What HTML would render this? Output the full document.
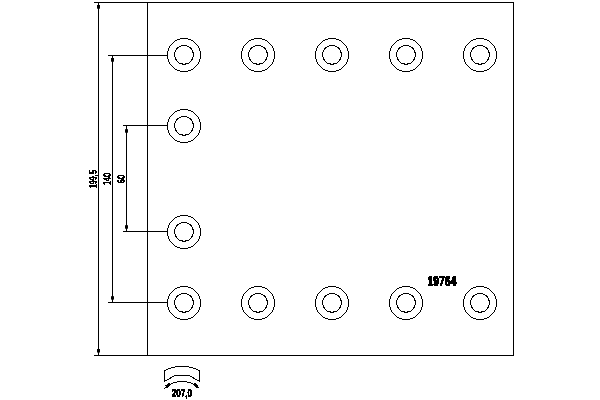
<!DOCTYPE html>
<html>
<head>
<meta charset="utf-8">
<title>19764</title>
<style>
html,body{margin:0;padding:0;background:#fff;width:600px;height:400px;overflow:hidden}
svg{display:block}
text{font-family:"Liberation Sans",sans-serif;font-weight:bold;fill:#000;stroke:#000;stroke-linejoin:round}
</style>
</head>
<body>
<svg width="600" height="400" viewBox="0 0 600 400">
<defs>
<filter id="bw" x="-20%" y="-20%" width="140%" height="140%" color-interpolation-filters="sRGB">
<feComponentTransfer><feFuncA type="discrete" tableValues="0 1"/></feComponentTransfer>
</filter>
</defs>
<rect width="600" height="400" fill="#fff"/>
<g fill="none" stroke="#000" stroke-width="1" shape-rendering="crispEdges">
<path d="M94 2.5H513.5V355.5H94"/>
<path d="M147.5 2V356"/>
<path d="M98.5 2V356"/>
<path d="M108 55.5H167"/>
<path d="M112.5 55V303"/>
<path d="M108 302.5H167"/>
<path d="M123 125.5H167"/>
<path d="M126.5 125V232"/>
<path d="M123 231.5H167"/>
</g>
<g fill="#000">
<rect x="97" y="5" width="3" height="3.7"/>
<rect x="97" y="349" width="3" height="3.5"/>
<rect x="111" y="58" width="3" height="3.7"/>
<rect x="111" y="296.2" width="3" height="3.4"/>
<rect x="125" y="129.2" width="3" height="3.5"/>
<rect x="125" y="225.2" width="3" height="3.5"/>
</g>
<g fill="none" stroke="#000" stroke-width="1" shape-rendering="crispEdges">
<circle cx="184" cy="55" r="16.5"/><polygon points="184.00,64.45 189.19,62.93 192.73,58.84 193.50,53.48 191.26,48.56 186.70,45.64 181.30,45.64 176.74,48.56 174.50,53.48 175.27,58.84 178.81,62.93"/>
<circle cx="258" cy="55" r="16.5"/><polygon points="258.00,64.45 263.19,62.93 266.73,58.84 267.50,53.48 265.26,48.56 260.70,45.64 255.30,45.64 250.74,48.56 248.50,53.48 249.27,58.84 252.81,62.93"/>
<circle cx="332" cy="55" r="16.5"/><polygon points="332.00,64.45 337.19,62.93 340.73,58.84 341.50,53.48 339.26,48.56 334.70,45.64 329.30,45.64 324.74,48.56 322.50,53.48 323.27,58.84 326.81,62.93"/>
<circle cx="406" cy="55" r="16.5"/><polygon points="406.00,64.45 411.19,62.93 414.73,58.84 415.50,53.48 413.26,48.56 408.70,45.64 403.30,45.64 398.74,48.56 396.50,53.48 397.27,58.84 400.81,62.93"/>
<circle cx="480" cy="55" r="16.5"/><polygon points="480.00,64.45 485.19,62.93 488.73,58.84 489.50,53.48 487.26,48.56 482.70,45.64 477.30,45.64 472.74,48.56 470.50,53.48 471.27,58.84 474.81,62.93"/>
<circle cx="184" cy="126" r="16.5"/><polygon points="184.00,135.45 189.19,133.93 192.73,129.84 193.50,124.48 191.26,119.56 186.70,116.64 181.30,116.64 176.74,119.56 174.50,124.48 175.27,129.84 178.81,133.93"/>
<circle cx="184" cy="232" r="16.5"/><polygon points="184.00,241.45 189.19,239.93 192.73,235.84 193.50,230.48 191.26,225.56 186.70,222.64 181.30,222.64 176.74,225.56 174.50,230.48 175.27,235.84 178.81,239.93"/>
<circle cx="184" cy="303" r="16.5"/><polygon points="184.00,312.45 189.19,310.93 192.73,306.84 193.50,301.48 191.26,296.56 186.70,293.64 181.30,293.64 176.74,296.56 174.50,301.48 175.27,306.84 178.81,310.93"/>
<circle cx="258" cy="303" r="16.5"/><polygon points="258.00,312.45 263.19,310.93 266.73,306.84 267.50,301.48 265.26,296.56 260.70,293.64 255.30,293.64 250.74,296.56 248.50,301.48 249.27,306.84 252.81,310.93"/>
<circle cx="332" cy="303" r="16.5"/><polygon points="332.00,312.45 337.19,310.93 340.73,306.84 341.50,301.48 339.26,296.56 334.70,293.64 329.30,293.64 324.74,296.56 322.50,301.48 323.27,306.84 326.81,310.93"/>
<circle cx="406" cy="303" r="16.5"/><polygon points="406.00,312.45 411.19,310.93 414.73,306.84 415.50,301.48 413.26,296.56 408.70,293.64 403.30,293.64 398.74,296.56 396.50,301.48 397.27,306.84 400.81,310.93"/>
<circle cx="480" cy="303" r="16.5"/><polygon points="480.00,312.45 485.19,310.93 488.73,306.84 489.50,301.48 487.26,296.56 482.70,293.64 477.30,293.64 472.74,296.56 470.50,301.48 471.27,306.84 474.81,310.93"/>
<path d="M164.5 381.5V370.5A40.3 40.3 0 0 1 199.5 370.5V381.5"/>
<path d="M164.5 381.5L174.8 375.5H189.2L199.5 381.5"/>
<path d="M164.5 388.5A25.4 25.4 0 0 1 199.5 388.5"/>
<path d="M166.3 386.8L170 383.6M197.7 386.8L194 383.6" stroke-width="3"/>
</g>
<g filter="url(#bw)">
<text transform="translate(427.4 286) scale(0.73 1)" font-size="14.2" stroke-width="1.1">19764</text>
<text transform="translate(171.8 397) scale(0.78 1)" font-size="10.4" stroke-width="0.65">207,0</text>
</g>
<g filter="url(#bw)">
<text transform="translate(97 188.3) rotate(-90) scale(0.73 1)" font-size="10" stroke-width="0.3">199,5</text>
<text transform="translate(111 185.3) rotate(-90) scale(0.75 1)" font-size="10" stroke-width="0.3">140</text>
<text transform="translate(125 183.2) rotate(-90) scale(0.75 1)" font-size="10" stroke-width="0.3">60</text>
</g>
</svg>
</body>
</html>
